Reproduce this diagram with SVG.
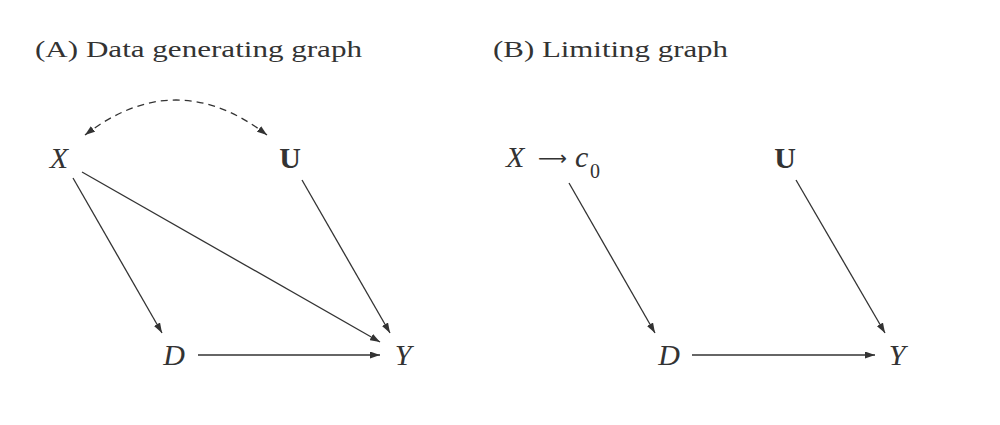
<svg xmlns="http://www.w3.org/2000/svg" width="1000" height="425" viewBox="0 0 1000 425">
<style>
.title{font-family:"Liberation Serif",serif;font-size:24px;fill:#333}
.m{font-family:"Liberation Serif",serif;font-style:italic;font-size:30px;fill:#333}
.b{font-family:"Liberation Serif",serif;font-weight:bold;font-size:30px;fill:#333}
.e{stroke:#333;stroke-width:1.3;fill:none;marker-end:url(#ah)}
.d{stroke:#333;stroke-width:1.3;fill:none;stroke-dasharray:7 5;marker-start:url(#ah);marker-end:url(#ah)}
</style>
<defs>
<marker id="ah" markerUnits="userSpaceOnUse" markerWidth="10" markerHeight="7" refX="10" refY="3.5" orient="auto-start-reverse">
<path d="M0,0 L10,3.5 L0,7 z" fill="#333"/>
</marker>
</defs>
<rect width="1000" height="425" fill="#fff"/>
<text class="title" x="35" y="57" textLength="327" lengthAdjust="spacingAndGlyphs">(A) Data generating graph</text>
<text class="title" x="493" y="57" textLength="235" lengthAdjust="spacingAndGlyphs">(B) Limiting graph</text>
<g id="connectors">
<path class="d" d="M85,135 Q176,65 267,135"/>
<line class="e" x1="73" y1="178" x2="162" y2="333"/>
<line class="e" x1="82" y1="172" x2="380" y2="342"/>
<line class="e" x1="302" y1="180" x2="390" y2="333"/>
<line class="e" x1="198" y1="355" x2="380" y2="355"/>
<line class="e" x1="569" y1="183" x2="655" y2="333"/>
<line class="e" x1="796" y1="180" x2="885" y2="333"/>
<line class="e" x1="692" y1="355" x2="875" y2="355"/>
</g>
<g id="nodeA_X"><text class="m" x="59" y="168" text-anchor="middle">X</text></g>
<g id="nodeA_U"><text class="b" x="290" y="168" text-anchor="middle">U</text></g>
<g id="nodeA_D"><text class="m" x="174" y="365" text-anchor="middle">D</text></g>
<g id="nodeA_Y"><text class="m" x="403" y="365" text-anchor="middle">Y</text></g>
<g id="nodeB_Xc0">
<text class="m" x="506" y="167">X</text>
<text x="538" y="165" font-family="DejaVu Sans,sans-serif" font-size="20" fill="#333" textLength="29" lengthAdjust="spacingAndGlyphs">⟶</text>
<text class="m" x="575" y="167">c</text>
<text x="590" y="178" font-family="Liberation Serif,serif" font-size="20" fill="#333">0</text>
</g>
<g id="nodeB_U"><text class="b" x="785" y="168" text-anchor="middle">U</text></g>
<g id="nodeB_D"><text class="m" x="669" y="365" text-anchor="middle">D</text></g>
<g id="nodeB_Y"><text class="m" x="897" y="365" text-anchor="middle">Y</text></g>
</svg>
